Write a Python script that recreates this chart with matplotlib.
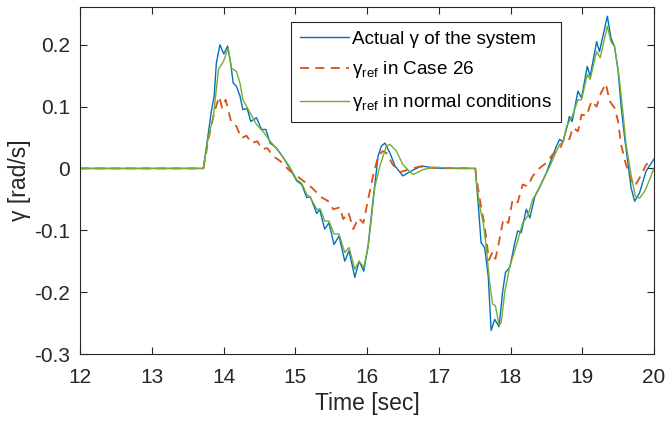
import matplotlib
matplotlib.use("Agg")
import matplotlib.pyplot as plt

plt.rcParams['font.family'] = ['Liberation Sans', 'DejaVu Sans']
plt.rcParams['mathtext.fontset'] = 'custom'
plt.rcParams['mathtext.rm'] = 'Liberation Sans'
plt.rcParams['axes.unicode_minus'] = False

# actual yaw rate of the system
t_actual = [12.0, 13.72, 13.79, 13.83, 13.87, 13.90, 13.95, 14.005, 14.057, 14.10,
            14.135, 14.18, 14.23, 14.27, 14.33, 14.38, 14.46, 14.53, 14.59, 14.65,
            14.74, 14.83, 14.915, 15.02, 15.09, 15.16, 15.21, 15.30, 15.34, 15.41,
            15.47, 15.54, 15.61, 15.69, 15.75, 15.83, 15.89, 15.955, 16.015, 16.085,
            16.155, 16.20, 16.25, 16.32, 16.39, 16.50, 16.62, 16.76, 16.92, 17.06,
            17.51, 17.557, 17.59, 17.64, 17.69, 17.73, 17.78, 17.84, 17.89, 17.93,
            17.99, 18.06, 18.10, 18.15, 18.22, 18.27, 18.34, 18.41, 18.50, 18.57,
            18.64, 18.685, 18.73, 18.79, 18.82, 18.86, 18.94, 18.99, 19.07, 19.11,
            19.20, 19.24, 19.35, 19.40, 19.45, 19.50, 19.54, 19.59, 19.64, 19.68,
            19.73, 19.80, 19.89, 20.0]
gamma_actual = [0, 0, 0.058, 0.092, 0.117, 0.170, 0.200, 0.185, 0.198, 0.170,
                0.138, 0.133, 0.117, 0.095, 0.097, 0.076, 0.082, 0.063, 0.063, 0.041,
                0.033, 0.018, 0.002, -0.020, -0.026, -0.047, -0.046, -0.073, -0.066, -0.098,
                -0.088, -0.123, -0.109, -0.150, -0.133, -0.176, -0.150, -0.166, -0.125, -0.050,
                0.020, 0.036, 0.041, 0.025, 0.004, -0.012, -0.004, 0.004, 0.001, 0,
                0, -0.068, -0.120, -0.128, -0.175, -0.262, -0.244, -0.256, -0.200, -0.168,
                -0.160, -0.120, -0.101, -0.104, -0.066, -0.080, -0.045, -0.029, -0.007, 0.015,
                0.036, 0.047, 0.043, 0.068, 0.084, 0.076, 0.125, 0.114, 0.165, 0.149,
                0.205, 0.189, 0.246, 0.211, 0.197, 0.157, 0.103, 0.050, 0.006, -0.031,
                -0.053, -0.039, -0.004, 0.015]

# reference yaw rate, Case 26
t_case26 = [12.0, 13.72, 13.79, 13.87, 13.94, 13.98, 14.03, 14.11, 14.18, 14.25,
            14.32, 14.39, 14.47, 14.54, 14.61, 14.69, 14.79, 14.925, 15.09, 15.23,
            15.37, 15.46, 15.53, 15.62, 15.67, 15.74, 15.81, 15.88, 15.95, 16.015,
            16.085, 16.155, 16.22, 16.27, 16.36, 16.46, 16.57, 16.73, 16.9, 17.51,
            17.52, 17.59, 17.64, 17.70, 17.75, 17.79, 17.83, 17.90, 17.97, 18.03,
            18.10, 18.17, 18.24, 18.31, 18.41, 18.50, 18.59, 18.685, 18.755, 18.82,
            18.87, 18.94, 18.99, 19.06, 19.13, 19.20, 19.26, 19.33, 19.38, 19.45,
            19.50, 19.54, 19.61, 19.68, 19.73, 19.80, 19.89, 20.0]
gamma_case26 = [0, 0, 0.047, 0.090, 0.116, 0.098, 0.111, 0.074, 0.068, 0.049,
                0.053, 0.041, 0.044, 0.031, 0.033, 0.020, 0.012, -0.004, -0.018, -0.031,
                -0.047, -0.053, -0.066, -0.063, -0.082, -0.071, -0.098, -0.080, -0.088, -0.050,
                -0.012, 0.020, 0.028, 0.025, 0.006, -0.006, -0.002, 0.003, 0.001, 0,
                -0.012, -0.062, -0.093, -0.148, -0.135, -0.146, -0.125, -0.082, -0.088, -0.050,
                -0.055, -0.026, -0.029, -0.012, 0.001, 0.009, 0.023, 0.031, 0.050, 0.047,
                0.066, 0.060, 0.087, 0.085, 0.109, 0.100, 0.122, 0.137, 0.109, 0.098,
                0.076, 0.039, 0.006, -0.018, -0.029, -0.015, 0.006, 0.015]

# reference yaw rate, normal conditions
t_normal = [12.0, 13.72, 13.79, 13.86, 13.89, 13.93, 14.0, 14.065, 14.11, 14.18,
            14.23, 14.27, 14.37, 14.46, 14.55, 14.65, 14.74, 14.83, 14.915, 15.02,
            15.09, 15.16, 15.21, 15.30, 15.35, 15.41, 15.47, 15.54, 15.61, 15.69,
            15.75, 15.83, 15.89, 15.955, 16.015, 16.06, 16.11, 16.18, 16.27, 16.32,
            16.41, 16.50, 16.64, 16.78, 16.92, 17.1, 17.51, 17.52, 17.57, 17.62,
            17.66, 17.71, 17.75, 17.79, 17.84, 17.87, 17.92, 17.99, 18.06, 18.10,
            18.17, 18.24, 18.31, 18.38, 18.45, 18.55, 18.64, 18.685, 18.73, 18.78,
            18.86, 18.94, 18.99, 19.07, 19.11, 19.20, 19.25, 19.35, 19.40, 19.45,
            19.51, 19.57, 19.61, 19.68, 19.74, 19.80, 19.87, 19.94, 20.0]
gamma_normal = [0, 0, 0.052, 0.084, 0.117, 0.160, 0.173, 0.195, 0.162, 0.157,
                0.138, 0.111, 0.090, 0.071, 0.060, 0.044, 0.032, 0.018, 0.004, -0.018,
                -0.024, -0.042, -0.047, -0.066, -0.066, -0.085, -0.085, -0.106, -0.106, -0.136,
                -0.128, -0.163, -0.150, -0.160, -0.128, -0.082, -0.029, 0.004, 0.036, 0.039,
                0.028, 0.006, -0.010, -0.002, 0.002, 0.001, 0, -0.018, -0.061, -0.088,
                -0.125, -0.185, -0.219, -0.222, -0.254, -0.249, -0.200, -0.158, -0.133, -0.117,
                -0.088, -0.077, -0.050, -0.037, -0.020, 0.004, 0.028, 0.039, 0.042, 0.068,
                0.084, 0.111, 0.111, 0.152, 0.144, 0.189, 0.179, 0.230, 0.205, 0.197,
                0.152, 0.087, 0.039, -0.010, -0.045, -0.048, -0.037, -0.018, 0.001]

x_ticks = [12, 13, 14, 15, 16, 17, 18, 19, 20]
y_ticks = [-0.3, -0.2, -0.1, 0, 0.1, 0.2]
y_tick_labels = ['-0.3', '-0.2', '-0.1', '0', '0.1', '0.2']

fig = plt.figure(figsize=(6.67, 4.23), dpi=100)
ax = fig.add_axes([80 / 667, (423 - 354) / 423, 574 / 667, 347 / 423])

ax.plot(t_actual, gamma_actual, color='#0072BD', lw=1.0,
        label='Actual γ of the system')
ax.plot(t_case26, gamma_case26, color='#D95319', lw=1.3, linestyle=(0, (5, 3.5)),
        label='γ$_{\\mathrm{ref}}$ in Case 26')
ax.plot(t_normal, gamma_normal, color='#77AC30', lw=1.0,
        label='γ$_{\\mathrm{ref}}$ in normal conditions')

ax.set_xlim(12, 20)
ax.set_ylim(-0.3, 0.261)
ax.set_xticks(x_ticks)
ax.set_yticks(y_ticks)
ax.set_yticklabels(y_tick_labels)
ax.tick_params(direction='in', length=5, width=0.8, top=True, right=True,
               labelsize=15, colors='#262626')
ax.tick_params(axis='x', pad=10)
ax.tick_params(axis='y', pad=7)
for s in ax.spines.values():
    s.set_color('#262626')
    s.set_linewidth(0.8)

ax.set_xlabel('Time [sec]', fontsize=16.5, color='#262626', labelpad=4)
ax.set_ylabel('γ [rad/s]', fontsize=16.5, color='#262626', labelpad=2)

leg = ax.legend(loc='upper left', bbox_to_anchor=(0.3676, 0.9568), borderaxespad=0,
                fontsize=13.6, fancybox=False, framealpha=1, edgecolor='#262626',
                handlelength=2.6, handletextpad=0.2, labelspacing=0.62,
                borderpad=0.45)
leg.get_frame().set_linewidth(0.8)

fig.savefig('out.png', dpi=100)
